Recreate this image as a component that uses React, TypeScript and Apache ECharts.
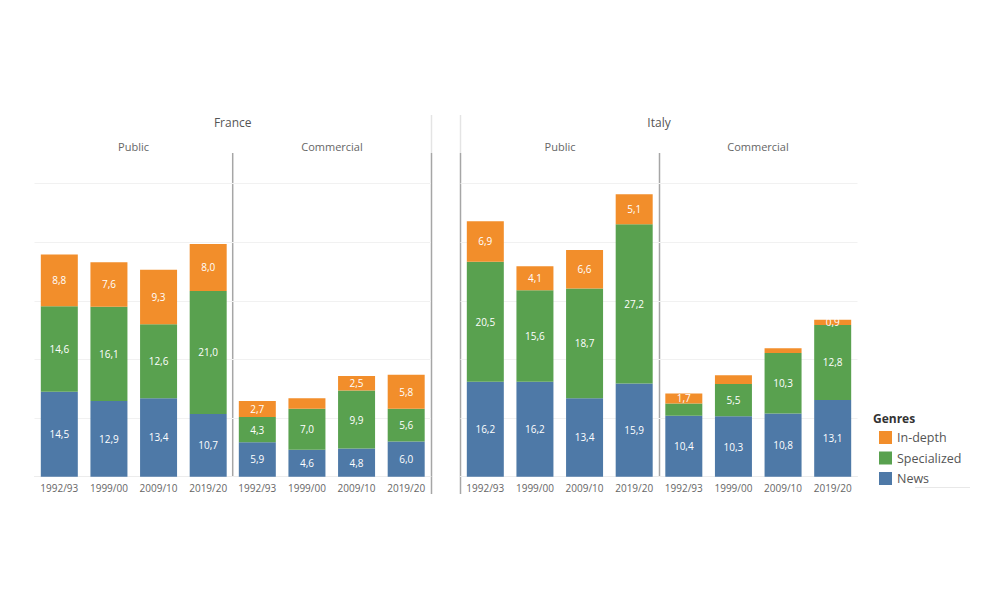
import React, { useEffect, useRef } from "react";
import * as echarts from "echarts";

const years = ["1992/93", "1999/00", "2009/10", "2019/20"];
const genres = ["In-depth", "Specialized", "News"];

const frPublicNews = [14.5, 12.9, 13.4, 10.7];
const frPublicSpec = [14.6, 16.1, 12.6, 21.0];
const frPublicDepth = [8.8, 7.6, 9.3, 8.0];

const frCommNews = [5.9, 4.6, 4.8, 6.0];
const frCommSpec = [4.3, 7.0, 9.9, 5.6];
const frCommDepth = [2.7, 1.8, 2.5, 5.8];

const itPublicNews = [16.2, 16.2, 13.4, 15.9];
const itPublicSpec = [20.5, 15.6, 18.7, 27.2];
const itPublicDepth = [6.9, 4.1, 6.6, 5.1];

const itCommNews = [10.4, 10.3, 10.8, 13.1];
const itCommSpec = [2.1, 5.5, 10.3, 12.8];
const itCommDepth = [1.7, 1.5, 0.8, 0.9];

// labels that the original hides (segment too small)
const hiddenLabels = [
  "France|Commercial|In-depth|1999/00",
  "Italy|Commercial|Specialized|1992/93",
  "Italy|Commercial|In-depth|1999/00",
  "Italy|Commercial|In-depth|2009/10",
];

const panels = [
  { country: "France", type: "Public", news: frPublicNews, spec: frPublicSpec, depth: frPublicDepth },
  { country: "France", type: "Commercial", news: frCommNews, spec: frCommSpec, depth: frCommDepth },
  { country: "Italy", type: "Public", news: itPublicNews, spec: itPublicSpec, depth: itPublicDepth },
  { country: "Italy", type: "Commercial", news: itCommNews, spec: itCommSpec, depth: itCommDepth },
];

const colors: Record<string, string> = {
  "In-depth": "#F28E2B",
  Specialized: "#59A14F",
  News: "#4E79A7",
};

const FONT = "'Open Sans', 'Noto Sans', sans-serif";

export default function App() {
  const ref = useRef<HTMLDivElement>(null);
  useEffect(() => {
    document.body.style.margin = "0";
    const chart = echarts.init(ref.current!, null, { renderer: "svg" });
    const gridLefts = [34.5, 232.5, 460.5, 659];
    const gridW = 198.5;
    const top = 183.7;
    const height = 293;

    const grids = gridLefts.map((l) => ({ left: l, width: gridW, top, height }));
    const xAxes = panels.map((_, i) => ({
      type: "category",
      gridIndex: i,
      data: years,
      axisTick: { show: false },
      axisLine: { show: true, lineStyle: { color: "#ececec" } },
      axisLabel: { color: "#666", fontSize: 10, fontFamily: FONT, margin: 6 },
    }));
    const yAxes = panels.map((_, i) => ({
      type: "value",
      gridIndex: i,
      min: 0,
      max: 50,
      interval: 10,
      axisLabel: { show: false },
      axisLine: { show: false },
      axisTick: { show: false },
      splitLine: { lineStyle: { color: "#f1f1f1", width: 1 } },
    }));

    const fmt = (v: number) => v.toFixed(1).replace(".", ",");
    const series: any[] = [];
    panels.forEach((p, i) => {
      const parts: [string, number[]][] = [
        ["News", p.news],
        ["Specialized", p.spec],
        ["In-depth", p.depth],
      ];
      parts.forEach(([g, vals]) => {
        series.push({
          type: "bar",
          name: g,
          xAxisIndex: i,
          yAxisIndex: i,
          stack: "s" + i,
          barWidth: 37,
          itemStyle: { color: colors[g] },
          label: {
            show: true,
            position: "inside",
            color: "#fff",
            fontSize: 10,
            fontFamily: FONT,
            formatter: (pr: any) => {
              const key = `${p.country}|${p.type}|${g}|${pr.name}`;
              return hiddenLabels.includes(key) ? "" : fmt(pr.value);
            },
          },
          data: vals,
        });
      });
    });

    const sep = "#a6a6a6";
    const light = "#e4e4e4";
    const graphic: any[] = [
      { type: "text", x: 232.7, y: 122, style: { text: "France", fill: "#555", font: `12px ${FONT}`, textAlign: "center", textVerticalAlign: "middle" } },
      { type: "text", x: 659, y: 122, style: { text: "Italy", fill: "#555", font: `12px ${FONT}`, textAlign: "center", textVerticalAlign: "middle" } },
      { type: "text", x: 133.5, y: 146, style: { text: "Public", fill: "#666", font: `11px ${FONT}`, textAlign: "center", textVerticalAlign: "middle" } },
      { type: "text", x: 332, y: 146, style: { text: "Commercial", fill: "#666", font: `11px ${FONT}`, textAlign: "center", textVerticalAlign: "middle" } },
      { type: "text", x: 560, y: 146, style: { text: "Public", fill: "#666", font: `11px ${FONT}`, textAlign: "center", textVerticalAlign: "middle" } },
      { type: "text", x: 758, y: 146, style: { text: "Commercial", fill: "#666", font: `11px ${FONT}`, textAlign: "center", textVerticalAlign: "middle" } },
      { type: "line", shape: { x1: 431.5, y1: 115, x2: 431.5, y2: 153 }, style: { stroke: light, lineWidth: 1.5 } },
      { type: "line", shape: { x1: 460.5, y1: 115, x2: 460.5, y2: 153 }, style: { stroke: light, lineWidth: 1.5 } },
      { type: "line", shape: { x1: 431.5, y1: 153, x2: 431.5, y2: 494 }, style: { stroke: sep, lineWidth: 1.5 } },
      { type: "line", shape: { x1: 460.5, y1: 153, x2: 460.5, y2: 494 }, style: { stroke: sep, lineWidth: 1.5 } },
      { type: "line", shape: { x1: 232.7, y1: 153, x2: 232.7, y2: 477 }, style: { stroke: sep, lineWidth: 1.5 } },
      { type: "line", shape: { x1: 659.5, y1: 153, x2: 659.5, y2: 477 }, style: { stroke: sep, lineWidth: 1.5 } },
      { type: "line", shape: { x1: 915, y1: 487.5, x2: 970, y2: 487.5 }, style: { stroke: "#e8e8e8", lineWidth: 1 } },
      { type: "text", x: 873, y: 418, style: { text: "Genres", fill: "#333", font: `bold 12px ${FONT}`, textAlign: "left", textVerticalAlign: "middle" } },
    ];

    chart.setOption({
      animation: false,
      textStyle: { fontFamily: FONT },
      grid: grids,
      xAxis: xAxes,
      yAxis: yAxes,
      series,
      legend: {
        data: genres,
        orient: "vertical",
        left: 874,
        top: 426,
        itemWidth: 13,
        itemHeight: 13,
        itemGap: 7.5,
        icon: "rect",
        textStyle: { color: "#555", fontSize: 12.5, fontFamily: FONT },
        selectedMode: false,
      },
      graphic,
    });
    return () => chart.dispose();
  }, []);
  return <div ref={ref} style={{ width: 1000, height: 600 }} />;
}
